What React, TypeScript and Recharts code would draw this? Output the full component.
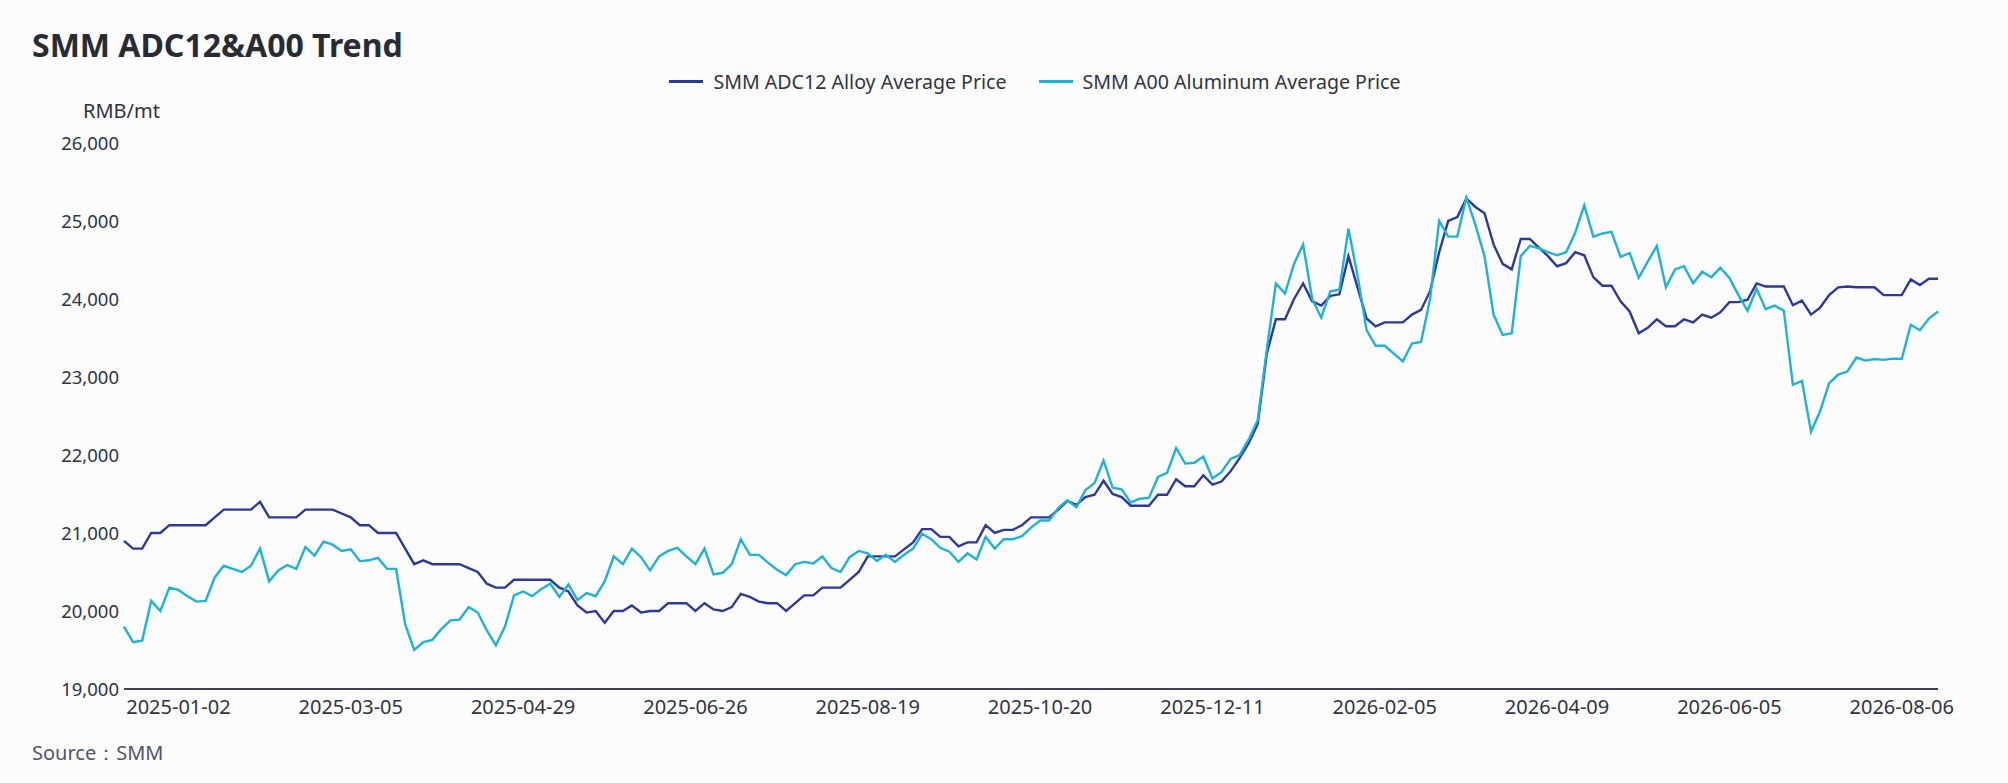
import React from 'react';
import { LineChart, Line, XAxis, YAxis } from 'recharts';

// SMM ADC12 alloy vs A00 aluminium, RMB/mt, roughly every 2nd trading day
const adc12 = [
  20900, 20800, 20800, 21000, 21000, 21100, 21100, 21100, 21100, 21100,
  21200, 21300, 21300, 21300, 21300, 21400, 21200, 21200, 21200, 21200,
  21300, 21300, 21300, 21300, 21250, 21200, 21100, 21100, 21000, 21000,
  21000, 20800, 20600, 20650, 20600, 20600, 20600, 20600, 20550, 20500,
  20350, 20300, 20300, 20400, 20400, 20400, 20400, 20400, 20300, 20250,
  20070, 19980, 20000, 19850, 20000, 20000, 20070, 19980, 20000, 20000,
  20100, 20100, 20100, 20000, 20100, 20020, 20000, 20050, 20220, 20180,
  20120, 20100, 20100, 20000, 20100, 20200, 20200, 20300, 20300, 20300,
  20400, 20500, 20700, 20700, 20700, 20700, 20790, 20880, 21050, 21050,
  20950, 20950, 20830, 20880, 20880, 21100, 21000, 21040, 21040, 21100,
  21200, 21200, 21200, 21300, 21410, 21360, 21460, 21490, 21670, 21500,
  21460, 21350, 21350, 21350, 21490, 21490, 21690, 21600, 21600, 21740,
  21620, 21660, 21790, 21960, 22150, 22400, 23300, 23740, 23740, 24000,
  24200, 23970, 23915, 24040, 24060, 24550, 24150, 23750, 23650, 23700,
  23700, 23700, 23800, 23860, 24100, 24600, 25000, 25050, 25290, 25180,
  25100, 24700, 24450, 24380, 24770, 24770, 24660, 24550, 24420, 24460,
  24600, 24560, 24280, 24170, 24170, 23970, 23840, 23560, 23630, 23740,
  23650, 23650, 23740, 23700, 23800, 23760, 23830, 23960, 23960, 23990,
  24200, 24160, 24160, 24160, 23920, 23980, 23800, 23890, 24050, 24150,
  24160, 24150, 24150, 24150, 24050, 24050, 24050, 24250, 24180, 24260,
  24260,
];

const a00 = [
  19800, 19600, 19620, 20130, 20000, 20300, 20270, 20190, 20120, 20130,
  20430, 20580, 20540, 20500, 20580, 20800, 20380, 20520, 20590, 20540,
  20820, 20710, 20890, 20850, 20770, 20790, 20640, 20650, 20680, 20540,
  20540, 19830, 19500, 19600, 19630, 19770, 19880, 19890, 20050, 19980,
  19750, 19560, 19800, 20200, 20250, 20190, 20280, 20350, 20180, 20340,
  20140, 20230, 20190, 20380, 20700, 20600, 20800, 20690, 20520, 20700,
  20770, 20810, 20700, 20600, 20800, 20470, 20490, 20600, 20920, 20720,
  20720, 20620, 20530, 20460, 20600, 20630, 20610, 20700, 20550, 20500,
  20690, 20770, 20740, 20640, 20720, 20630, 20720, 20800, 20990, 20920,
  20810, 20760, 20630, 20740, 20660, 20950, 20800, 20920, 20920, 20960,
  21070, 21160, 21160, 21320, 21420, 21330, 21550, 21640, 21930, 21580,
  21560, 21390, 21440, 21450, 21720, 21770, 22090, 21890, 21900, 21980,
  21700, 21780, 21950, 22000, 22200, 22450, 23350, 24200, 24070, 24450,
  24700, 24000, 23760, 24100, 24120, 24900, 24300, 23600, 23400, 23400,
  23300, 23200, 23430, 23450, 24000, 25000, 24800, 24800, 25300, 24950,
  24550, 23800, 23540, 23560, 24550, 24680, 24650, 24600, 24560, 24600,
  24850, 25200, 24800, 24840, 24860, 24540, 24590, 24270, 24480, 24680,
  24150, 24380, 24420, 24200, 24350, 24280, 24400, 24270, 24050, 23850,
  24130, 23870, 23915, 23850, 22900, 22950, 22300, 22560, 22920, 23030,
  23070, 23250, 23210, 23230, 23220, 23235, 23230, 23670, 23600, 23750,
  23840,
];

const tickIdx = [6, 25, 44, 63, 82, 101, 120, 139, 158, 177, 196];
const tickLabels = [
  '2025-01-02', '2025-03-05', '2025-04-29', '2025-06-26', '2025-08-19', '2025-10-20',
  '2025-12-11', '2026-02-05', '2026-04-09', '2026-06-05', '2026-08-06',
];
const yTicks = [19000, 20000, 21000, 22000, 23000, 24000, 25000, 26000];

const series = [
  { key: 'adc12', name: 'SMM ADC12 Alloy Average Price', color: '#2b3a98' },
  { key: 'a00', name: 'SMM A00 Aluminum Average Price', color: '#20b1d6' },
];

const data = adc12.map((v, i) => ({ i, adc12: v, a00: a00[i] }));

document.body.style.margin = '0';

const font = "'Noto Sans', 'Open Sans', sans-serif";

export default function App() {
  return (
    <div style={{ position: 'relative', width: 2008, height: 783, background: '#fcfcfc', fontFamily: font }}>
      <div style={{ position: 'absolute', left: 32, top: 23, fontSize: 32, fontWeight: 700, color: '#262b36' }}>
        SMM ADC12&amp;A00 Trend
      </div>

      {/* legend */}
      <div style={{ position: 'absolute', left: 0, top: 68, width: 2070, display: 'flex', justifyContent: 'center', gap: 32 }}>
        {series.map(s => (
          <div key={s.key} style={{ display: 'flex', alignItems: 'center', gap: 10, fontSize: 19.6, color: '#2f3442' }}>
            <span style={{ display: 'inline-block', width: 34, height: 3, background: s.color }} />
            <span>{s.name}</span>
          </div>
        ))}
      </div>

      <div style={{ position: 'absolute', left: 83, top: 97, fontSize: 20, color: '#2f3442' }}>RMB/mt</div>
      <div style={{ position: 'absolute', left: 32, top: 739, fontSize: 20, color: '#50566a' }}>Source：SMM</div>

      <LineChart width={2008} height={783} data={data} margin={{ top: 143, right: 70, bottom: 64, left: 0 }}>
        <XAxis
          type="number"
          dataKey="i"
          domain={[0, 200]}
          ticks={tickIdx}
          tickFormatter={(v) => tickLabels[tickIdx.indexOf(v)]}
          height={30}
          axisLine={{ stroke: '#3d4254', strokeWidth: 2 }}
          tickLine={false}
          tickSize={0}
          tickMargin={11}
          tick={{ fill: '#2f3442', fontSize: 20, fontFamily: font }}
          interval={0}
        />
        <YAxis
          domain={[19000, 26000]}
          ticks={yTicks}
          width={124}
          axisLine={false}
          tickLine={false}
          tickSize={0}
          tickMargin={5}
          tickFormatter={(v) => v.toLocaleString('en-US')}
          tick={{ fill: '#2f3442', fontSize: 18.5, fontFamily: font }}
          interval={0}
        />
        {series.map(s => (
          <Line
            key={s.key}
            type="linear"
            dataKey={s.key}
            name={s.name}
            stroke={s.color}
            strokeWidth={2.4}
            dot={false}
            isAnimationActive={false}
          />
        ))}
      </LineChart>
    </div>
  );
}
